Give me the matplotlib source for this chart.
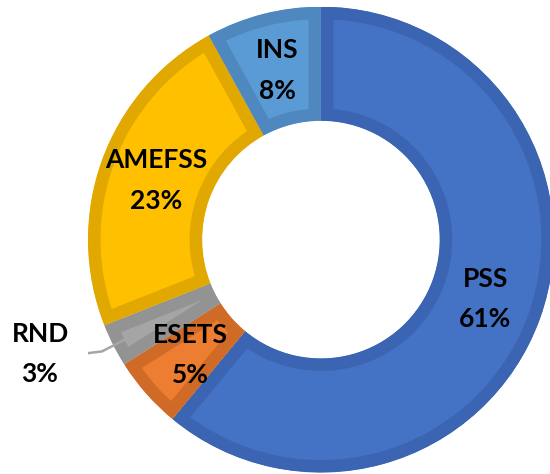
import numpy as np
import matplotlib.pyplot as plt

# donut data, clockwise from 12 o'clock
categories = ["PSS", "ESETS", "RND", "AMEFSS", "INS"]
shares = [61, 5, 3, 23, 8]

fills = ["#4472C4", "#ED7D31", "#A5A5A5", "#FFC000", "#5B9BD5"]
borders = ["#3B65B3", "#D06A27", "#939393", "#E0A800", "#4F88BE"]

plt.rcParams['font.family'] = ['Lato', 'DejaVu Sans']

fig = plt.figure(figsize=(5.5, 4.74), dpi=100)
ax = fig.add_axes([0.160, 0.003, 0.847, 0.983])

width = 0.49
wedges, _ = ax.pie(shares, radius=1, startangle=90, counterclock=False,
                   colors=fills, wedgeprops=dict(width=width))
ax.set_xlim(-1, 1)
ax.set_ylim(-1, 1)
ax.set_aspect('equal')
ax.axis('off')

# darker inner band along each wedge's outline (clip edge to the wedge itself)
for w, bc in zip(wedges, borders):
    w.set_edgecolor(bc)
    w.set_linewidth(18)
    w.set_clip_on(True)
    w.set_clip_path(w)

label_r = 0.75
for w, name, val in zip(wedges, categories, shares):
    mid = np.deg2rad((w.theta1 + w.theta2) / 2)
    txt = f"{name}\n{val}%"
    if name == "RND":
        # outside label with a bent leader line into the thin slice
        end = 0.74 * np.array([np.cos(mid), np.sin(mid)])
        ax.plot([-1.013, -0.94, end[0]], [-0.489, -0.48, end[1]],
                color='#A5A5A5', lw=1.8, solid_capstyle='butt')
        ax.text(-1.206, -0.49, txt, ha='center', va='center', fontsize=19,
                fontweight='bold', linespacing=1.82)
    else:
        x, y = label_r * np.cos(mid), label_r * np.sin(mid)
        ax.text(x, y, txt, ha='center', va='center', fontsize=19,
                fontweight='bold', linespacing=1.82)

fig.savefig("out.png", dpi=100)
